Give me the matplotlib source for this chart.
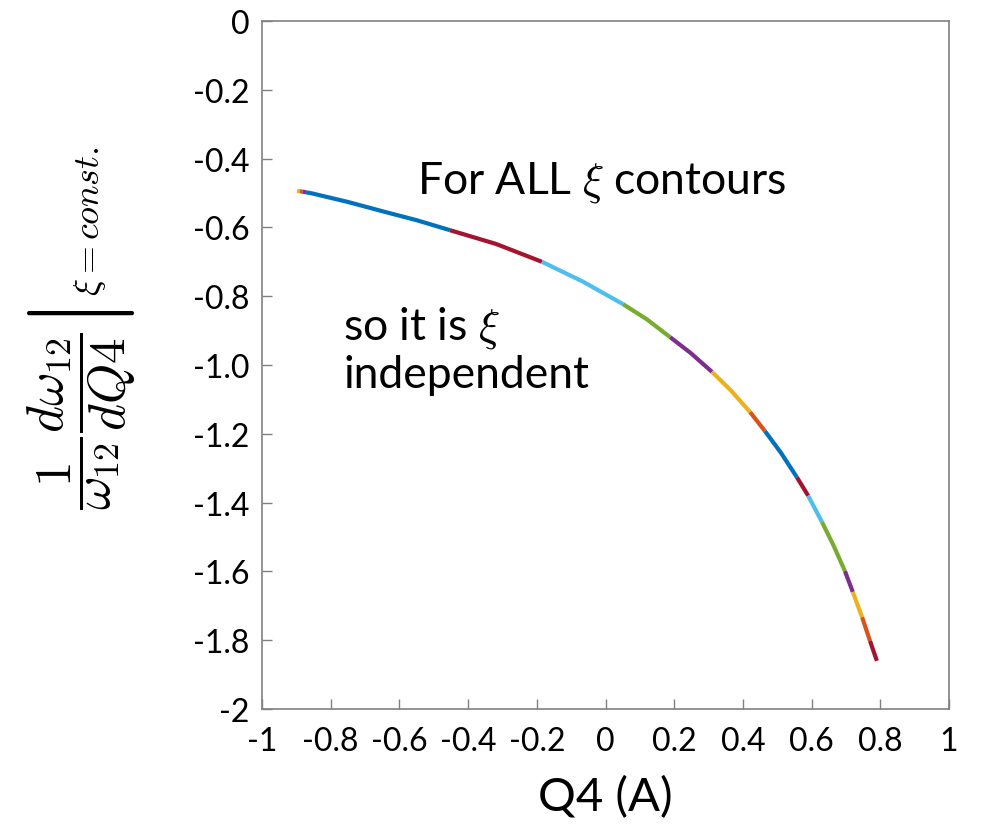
import matplotlib
matplotlib.use("Agg")
import matplotlib.pyplot as plt

plt.rcParams['font.family'] = ['Lato', 'DejaVu Sans']
plt.rcParams['mathtext.fontset'] = 'cm'

# points (Q4, normalised slope)
q4 = [-0.898, -0.890, -0.882, -0.872, -0.855, -0.75, -0.642, -0.55, -0.453, -0.319,
      -0.185, -0.067, 0.051, 0.12, 0.188, 0.249, 0.310, 0.366, 0.421, 0.464,
      0.51, 0.557, 0.590, 0.630, 0.664, 0.697, 0.720, 0.747, 0.770, 0.790]
slope = [-0.494, -0.495, -0.496, -0.498, -0.501, -0.526, -0.555, -0.579, -0.608, -0.648,
         -0.700, -0.757, -0.823, -0.867, -0.919, -0.966, -1.020, -1.075, -1.137, -1.192,
         -1.254, -1.326, -1.380, -1.456, -1.525, -1.599, -1.660, -1.733, -1.802, -1.860]

# each xi contour covers a piece of the same curve
bounds = [-0.898, -0.890, -0.882, -0.872, -0.453, -0.185, 0.051, 0.188, 0.310,
          0.421, 0.464, 0.557, 0.590, 0.630, 0.697, 0.720, 0.747, 0.770, 0.790]
blue, orange, yellow, purple = '#0072BD', '#D95319', '#EDB120', '#7E2F8E'
green, lblue, dred = '#77AC30', '#4DBEEE', '#A2142F'
seg_colors = [yellow, orange, purple, blue, dred, lblue, green, purple, yellow,
              orange, blue, dred, lblue, green, purple, yellow, orange, dred]

xticks = [-1, -0.8, -0.6, -0.4, -0.2, 0, 0.2, 0.4, 0.6, 0.8, 1]
xticklabels = ['-1', '-0.8', '-0.6', '-0.4', '-0.2', '0', '0.2', '0.4', '0.6', '0.8', '1']
yticks = [0, -0.2, -0.4, -0.6, -0.8, -1.0, -1.2, -1.4, -1.6, -1.8, -2]
yticklabels = ['0', '-0.2', '-0.4', '-0.6', '-0.8', '-1.0', '-1.2', '-1.4', '-1.6', '-1.8', '-2']

fig = plt.figure(figsize=(9.81, 8.28), dpi=100)
ax = fig.add_axes([262/981, 1-710/828, (949-262)/981, (710-22)/828])

for i, c in enumerate(seg_colors):
    lo, hi = bounds[i], bounds[i+1]
    xs = [x for x in q4 if lo <= x <= hi]
    ys = [y for x, y in zip(q4, slope) if lo <= x <= hi]
    ax.plot(xs, ys, color=c, lw=3, solid_capstyle='butt')

ax.set_xlim(-1, 1)
ax.set_ylim(-2, 0)
ax.set_xticks(xticks)
ax.set_xticklabels(xticklabels)
ax.set_yticks(yticks)
ax.set_yticklabels(yticklabels)
for s in ax.spines.values():
    s.set_color('#808080')
    s.set_linewidth(1.2)
ax.tick_params(direction='in', length=7, width=1, color='#808080', labelsize=23)
ax.tick_params(axis='x', pad=12)
ax.tick_params(axis='y', pad=9)

ax.set_xlabel('Q4 (A)', fontsize=34, labelpad=14)
fig.text(82/981, 1-328/828,
         r'$\dfrac{1}{\omega_{12}}\left.\dfrac{d\omega_{12}}{dQ4}\right|_{\xi=const.}$',
         rotation=90, fontsize=37, ha='center', va='center')

ax.text(-0.549, -0.468, r'For ALL $\xi$ contours', fontsize=32, va='center')
ax.text(-0.764, -0.955, 'so it is $\\xi$\nindependent', fontsize=32, va='center',
        linespacing=1.15)

fig.savefig('out.png', dpi=100)
